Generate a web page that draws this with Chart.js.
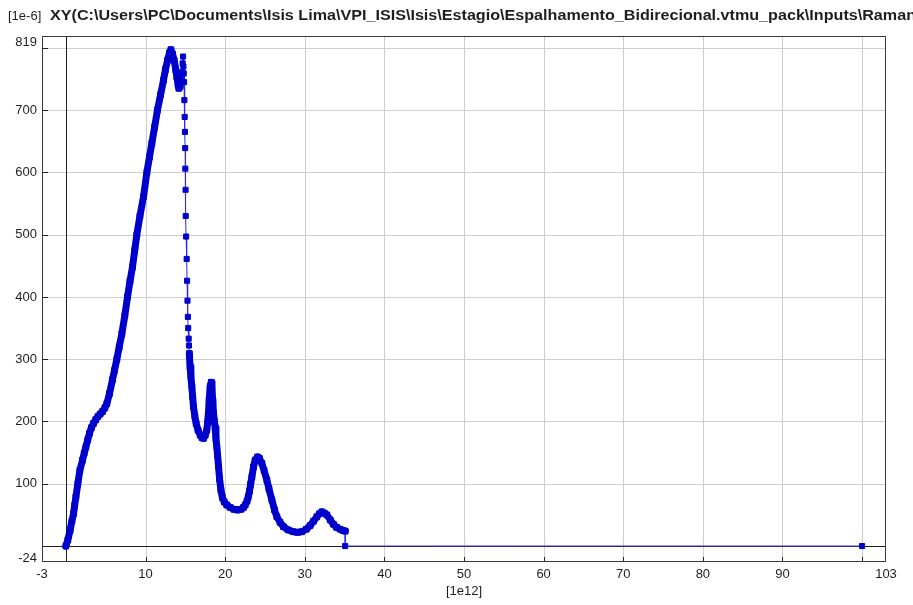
<!DOCTYPE html>
<html>
<head>
<meta charset="utf-8">
<script src="https://cdn.jsdelivr.net/npm/chart.js@4/dist/chart.umd.min.js"></script>
<style>
  html, body { margin: 0; padding: 0; background: #ffffff; }
  #wrap { width: 913px; height: 605px; }
</style>
</head>
<body>
<div id="wrap"><canvas id="c" width="913" height="605"></canvas></div>
<script>
// ---- data (x in 1e12, y in 1e-6) ----
const bandOne = [[0,0],[0.25,10],[0.54,26],[0.75,40],[0.96,52],[1.1,65],[1.26,79],[1.5,100],[1.76,122],[2.09,138],[2.3,149],[2.51,159],[2.75,171],[2.96,181],[3.2,190],[3.47,197],[3.75,203],[4.02,208],[4.3,212],[4.6,216],[4.9,222],[5.15,229],[5.48,245],[5.85,267],[6.1,282],[6.4,300],[6.7,320],[7.03,341],[7.4,370],[7.74,400],[8.05,425],[8.36,448],[8.65,475],[8.91,500],[9.3,530],[9.75,561],[10.17,600],[10.5,625],[10.8,647],[11.15,673],[11.5,700],[11.9,725],[12.26,748],[12.5,765],[12.77,780],[13.0,792],[13.19,797],[13.4,790],[13.6,780],[13.8,765],[13.94,753],[14.1,740],[14.19,735],[14.35,738],[14.5,748],[14.6,760]];
const steepDrop = [[14.6,760],[14.66,775],[14.72,786],[14.76,770],[14.8,759],[14.84,745],[14.88,716],[14.92,689],[14.95,665],[14.98,639],[15.0,606],[15.03,572],[15.05,530],[15.1,497],[15.17,461],[15.22,426],[15.27,394],[15.32,368],[15.36,350],[15.42,333],[15.46,322],[15.5,309]];
const bandTwo = [[15.5,309],[15.6,288],[15.7,272],[15.82,256],[15.92,240],[16.02,224],[16.2,208],[16.36,197],[16.6,186],[16.87,178],[17.1,174],[17.28,173],[17.5,178],[17.7,186],[17.8,198],[17.9,213],[18.0,235],[18.12,256],[18.25,263],[18.35,250],[18.46,232],[18.54,213],[18.65,200],[18.75,190],[18.85,172],[18.96,159],[19.06,145],[19.17,128],[19.3,108],[19.47,90],[19.65,78],[19.88,71],[20.2,66],[20.63,62],[21.1,59],[21.55,58],[22.0,59],[22.3,62],[22.52,66],[22.75,72],[22.9,79],[23.06,88],[23.2,99],[23.36,111],[23.56,127],[23.77,138],[24.07,143],[24.3,141],[24.61,133],[24.9,121],[25.24,106],[25.5,92],[25.87,74],[26.2,58],[26.5,47],[26.9,38],[27.33,31],[27.9,26],[28.58,23],[29.1,22],[29.6,23],[30.2,27],[30.68,33],[31.1,40],[31.52,47],[31.85,52],[32.15,55],[32.45,53],[32.78,50],[33.2,42],[33.6,35],[34.0,30],[34.45,27],[34.8,25],[35.08,24]];
const tailSegment = [[35.08,24],[35.08,0],[100,0]];

const xTicks = [-3, 0, 10, 20, 30, 40, 50, 60, 70, 80, 90, 100, 103];
const xTickLabels = ['-3', '', '10', '20', '30', '40', '50', '60', '70', '80', '90', '', '103'];
const yTicks = [-24, 0, 100, 200, 300, 400, 500, 600, 700, 800, 819];
const yTickLabels = ['-24', '', '100', '200', '300', '400', '500', '600', '700', '', '819'];
const yUnitLabel = '[1e-6]';
const xUnitLabel = '[1e12]';
const titleText = 'XY(C:\\Users\\PC\\Documents\\Isis Lima\\VPI_ISIS\\Isis\\Estagio\\Espalhamento_Bidirecional.vtmu_pack\\Inputs\\Raman';

const toPts = arr => arr.map(p => ({x: p[0], y: p[1]}));

const MARK = '#0000cc';
const THIN = '#2a2ae6';

const decor = {
  id: 'decor',
  beforeDatasetsDraw(chart) {
    const {ctx, chartArea: a, scales: {x, y}} = chart;
    ctx.save();
    ctx.lineWidth = 1;
    ctx.strokeStyle = '#cdcdcd';
    xTicks.forEach(v => {
      if (v === 0 || v === -3 || v === 103) return;
      const px = Math.round(x.getPixelForValue(v)) + 0.5;
      ctx.beginPath(); ctx.moveTo(px, a.top); ctx.lineTo(px, a.bottom); ctx.stroke();
    });
    yTicks.forEach(v => {
      if (v === 0 || v === -24 || v === 819) return;
      const py = Math.round(y.getPixelForValue(v)) + 0.5;
      ctx.beginPath(); ctx.moveTo(a.left, py); ctx.lineTo(a.right, py); ctx.stroke();
    });
    ctx.strokeStyle = '#1e1e1e';
    const x0 = Math.round(x.getPixelForValue(0)) + 0.5;
    ctx.beginPath(); ctx.moveTo(x0, a.top); ctx.lineTo(x0, a.bottom); ctx.stroke();
    const y0 = Math.round(y.getPixelForValue(0)) + 0.5;
    ctx.beginPath(); ctx.moveTo(a.left, y0); ctx.lineTo(a.right, y0); ctx.stroke();
    ctx.restore();
  },
  afterDraw(chart) {
    const {ctx, chartArea: a, scales: {x, y}} = chart;
    ctx.save();
    ctx.strokeStyle = '#3a3a3a';
    ctx.lineWidth = 1;
    ctx.strokeRect(Math.round(a.left) + 0.5, Math.round(a.top) + 0.5,
                   Math.round(a.right - a.left) - 1, Math.round(a.bottom - a.top));
    ctx.strokeStyle = '#222222';
    xTicks.forEach(v => {
      if (v === -3 || v === 103) return;
      const px = Math.round(x.getPixelForValue(v)) + 0.5;
      ctx.beginPath(); ctx.moveTo(px, a.bottom); ctx.lineTo(px, a.bottom - 4); ctx.stroke();
    });
    yTicks.forEach(v => {
      if (v === -24 || v === 819) return;
      const py = Math.round(y.getPixelForValue(v)) + 0.5;
      ctx.beginPath(); ctx.moveTo(a.left, py); ctx.lineTo(a.left + 6, py); ctx.stroke();
    });
    ctx.fillStyle = '#1e1e1e';
    ctx.font = '13px "Liberation Sans", Arial, sans-serif';
    ctx.textAlign = 'center';
    ctx.textBaseline = 'top';
    xTicks.forEach((v, i) => {
      if (!xTickLabels[i]) return;
      ctx.fillText(xTickLabels[i], x.getPixelForValue(v), a.bottom + 7);
    });
    ctx.textAlign = 'right';
    ctx.textBaseline = 'middle';
    yTicks.forEach((v, i) => {
      if (!yTickLabels[i]) return;
      let py = y.getPixelForValue(v);
      if (v === 819) py += 6;
      if (v === -24) py -= 3;
      ctx.fillText(yTickLabels[i], a.left - 5, py);
    });
    ctx.textAlign = 'center';
    ctx.fillText(xUnitLabel, (a.left + a.right) / 2, 591);
    ctx.textAlign = 'left';
    ctx.fillText(yUnitLabel, 8, 16);
    ctx.font = 'bold 14px "Liberation Sans Narrow", "Liberation Sans", Arial, sans-serif';
    const w = ctx.measureText(titleText).width;
    const target = 866;
    ctx.translate(50, 16);
    ctx.scale(target / w, 1);
    ctx.fillText(titleText, 0, 0);
    ctx.restore();
  }
};

const thick = (data) => ({
  data: toPts(data), borderColor: MARK, borderWidth: 7, backgroundColor: MARK,
  pointStyle: 'rect', pointRadius: 4, pointBorderWidth: 1, pointBorderColor: MARK,
  pointBackgroundColor: MARK, tension: 0, borderJoinStyle: 'round', borderCapStyle: 'round'
});
const thin = (data) => ({
  data: toPts(data), borderColor: THIN, borderWidth: 1, backgroundColor: MARK,
  pointStyle: 'rect', pointRadius: 3.6, pointBorderWidth: 1, pointBorderColor: MARK,
  pointBackgroundColor: MARK, tension: 0
});

new Chart(document.getElementById('c'), {
  type: 'line',
  data: { datasets: [thin(tailSegment), thin(steepDrop), thick(bandTwo), thick(bandOne)] },
  options: {
    responsive: false,
    animation: false,
    events: [],
    layout: { padding: { left: 42, right: 27, top: 36, bottom: 44 } },
    plugins: { legend: { display: false }, tooltip: { enabled: false }, title: { display: false } },
    scales: {
      x: { type: 'linear', min: -3, max: 103, display: false },
      y: { type: 'linear', min: -24, max: 819, display: false }
    }
  },
  plugins: [decor]
});
</script>
</body>
</html>
